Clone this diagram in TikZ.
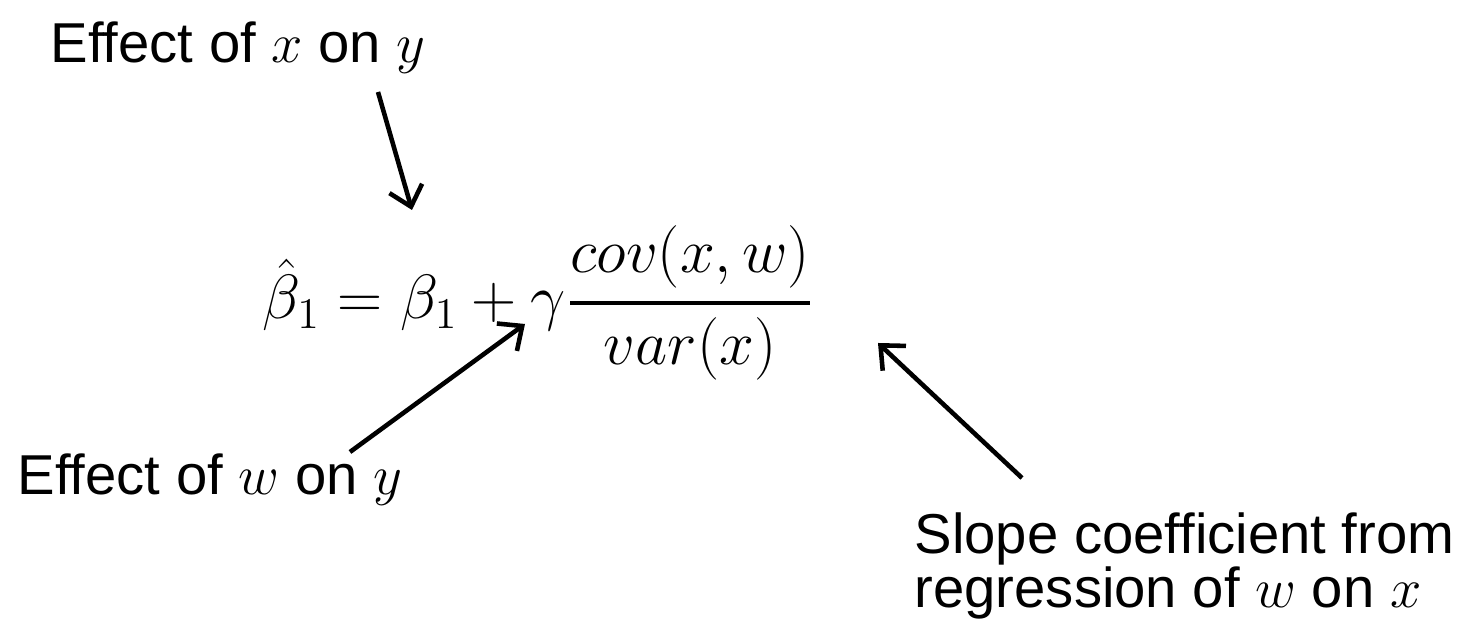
\documentclass[tikz,border=0pt]{standalone}
\usepackage{fix-cm}
\usepackage{amsmath}
\usepackage{fontspec}
\setmainfont{Liberation Sans}
\usetikzlibrary{arrows.meta}
\begin{document}
\begin{tikzpicture}[every node/.style={inner sep=0pt},
  lbl/.style={font=\fontsize{16}{15.5}\selectfont},
  arr/.style={-{Straight Barb[length=1.9mm,width=3.4mm,line width=1.3pt]},line width=1.3pt}]
\useasboundingbox (0,0) rectangle (14.74,-6.22);
\node[lbl,anchor=base west] (v1) at (0.50,-0.63) {Effect of $x$ on $y$};
\node[font=\fontsize{17.8}{22}\selectfont,anchor=west] (v2) at (2.62,-3.03) {$\displaystyle \hat{\beta}_1 = \beta_1 + \gamma\genfrac{}{}{1.2pt}{0}{cov(x,w)}{var(x)}$};
\node[lbl,anchor=base west] (v3) at (0.17,-4.95) {Effect of $w$ on $y$};
\node[lbl,anchor=north west,align=left] (v4) at (9.14,-5.12) {Slope coefficient from\\regression of $w$ on $x$};
\coordinate (a1) at (3.78,-0.92);
\coordinate (b1) at (4.12,-2.10);
\coordinate (a2) at (3.50,-4.52);
\coordinate (b2) at (5.25,-3.24);
\coordinate (a3) at (10.22,-4.78);
\coordinate (b3) at (8.78,-3.43);
\draw[arr] (a1) -- (b1);
\draw[arr] (a2) -- (b2);
\draw[arr] (a3) -- (b3);
\end{tikzpicture}
\end{document}
